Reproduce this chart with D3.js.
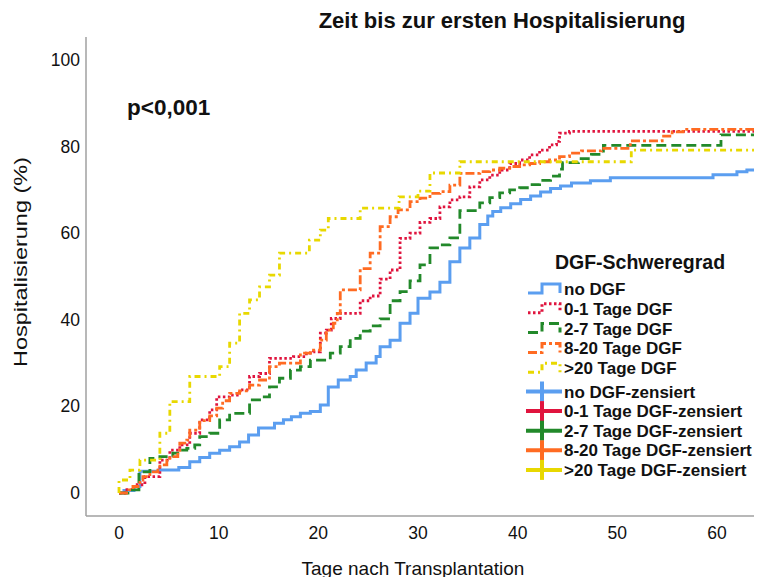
<!DOCTYPE html>
<html>
<head>
<meta charset="utf-8">
<script src="https://cdn.jsdelivr.net/npm/d3@7"></script>
<style>
  body { margin: 0; background: #fff; }
  text { font-family: "Liberation Sans", Arial, sans-serif; fill: #111; }
</style>
</head>
<body>
<svg id="chart"></svg>
<script>
// cumulative hospitalisation (%) by day
const noDGF = [[0,0],[0.5,0.6],[1.5,1.5],[2.1,5.0],[4.0,5.3],[6.0,5.9],[7.1,7.2],[8.1,8.2],[9.1,9.2],[10.1,9.9],[11.1,10.7],[12.1,11.8],[13.0,13.4],[14.0,15.0],[15.6,16.1],[16.5,16.9],[17.3,17.6],[18.2,18.4],[19.2,18.8],[20.2,20.3],[21.0,24.5],[22.0,26.1],[23.2,26.9],[23.8,28.4],[24.8,30.0],[25.8,31.5],[26.2,33.8],[27.2,35.3],[28.2,39.2],[29.2,41.5],[30.0,45.0],[31.2,46.4],[32.2,48.7],[33.2,53.4],[34.2,56.6],[35.2,58.9],[36.2,62.0],[37.0,64.0],[37.5,65.0],[38.3,65.9],[39.3,66.8],[40.3,67.8],[41.3,68.6],[42.3,69.5],[43.3,70.3],[44.3,70.9],[45.4,71.6],[47.3,72.1],[49.3,72.8],[59.6,73.5],[62.0,74.2],[63.0,74.6]];
const dgf0to1 = [[0,0],[0.6,0.8],[1.5,1.9],[2.6,3.8],[4.1,7.6],[5.1,9.9],[6.1,11.1],[7.1,13.8],[8.1,16.9],[9.1,19.2],[9.8,22.2],[11.1,22.6],[12.1,23.8],[13.1,26.9],[14.1,27.6],[15.1,31.1],[17.5,31.5],[18.8,32.3],[19.5,32.6],[20.2,36.9],[20.8,37.6],[21.3,40.3],[22.2,41.5],[24.2,44.4],[25.2,45.5],[26.2,49.4],[27.2,51.5],[28.2,58.8],[29.2,60.0],[30.2,62.5],[31.2,63.4],[32.2,66.1],[33.2,67.7],[34.2,68.4],[35.2,70.7],[36.2,72.3],[37.2,73.4],[38.2,74.6],[39.2,76.1],[40.2,76.9],[41.2,78.1],[42.2,79.2],[43.2,80.4],[43.9,81.2],[44.2,83.1],[45.2,83.5]];
const dgf2to7 = [[0,0],[0.9,0.7],[2.0,4.9],[3.1,8.0],[4.1,8.4],[5.4,9.2],[6.1,9.9],[6.8,10.3],[7.6,11.1],[8.1,13.0],[9.1,13.8],[10.1,16.9],[11.1,18.4],[13.1,21.5],[14.1,22.2],[15.1,24.5],[16.1,26.5],[17.2,28.4],[18.2,29.2],[19.2,30.7],[21.2,32.3],[22.2,33.8],[23.2,35.7],[24.2,37.4],[25.2,38.6],[26.2,40.2],[27.2,44.4],[28.2,46.5],[29.2,49.0],[30.2,52.7],[31.2,56.6],[32.2,57.3],[33.2,58.9],[34.2,65.2],[36.2,67.0],[37.2,68.2],[38.2,69.3],[39.2,70.0],[40.2,70.5],[41.2,71.2],[42.2,72.2],[43.3,73.2],[44.2,74.8],[44.5,76.3],[46.1,77.2],[47.4,78.2],[48.6,80.3],[60.4,82.7]];
const dgf8to20 = [[0,0],[1.0,0.7],[1.4,1.5],[2.1,3.0],[2.4,3.8],[3.1,4.9],[3.9,5.7],[4.1,6.5],[4.8,7.6],[5.1,8.4],[5.9,9.5],[6.1,11.5],[6.8,12.2],[7.1,14.5],[8.1,16.7],[9.1,17.8],[9.8,19.6],[10.4,21.3],[11.1,23.0],[12.1,23.6],[13.1,24.9],[14.1,26.1],[15.1,29.2],[16.1,30.0],[18.2,32.3],[19.2,33.0],[20.2,35.3],[20.8,37.6],[21.5,39.2],[21.9,41.5],[22.2,46.9],[24.2,51.8],[25.2,55.4],[26.2,61.5],[27.2,63.8],[28.0,65.4],[29.2,67.3],[30.2,68.1],[31.2,69.2],[32.2,69.6],[33.2,71.1],[34.2,73.8],[36.2,74.2],[37.2,74.6],[38.2,75.0],[39.2,75.4],[40.2,75.8],[41.2,76.1],[42.2,76.5],[43.2,76.9],[44.2,77.7],[45.2,78.5],[46.4,79.0],[48.4,79.6],[51.3,81.3],[54.5,82.4],[55.5,83.4],[56.6,84.0]];
const dgfOver20 = [[0,0],[0,3.0],[1.1,5.3],[2.1,7.6],[4.1,13.8],[5.1,21.1],[7.1,26.9],[10.1,29.2],[11.1,34.6],[12.1,41.5],[13.1,44.6],[14.1,47.6],[15.1,50.3],[16.1,55.4],[19.1,58.4],[20.2,60.7],[21.0,63.4],[24.2,65.8],[28.1,68.4],[30.0,69.7],[31.2,73.9],[34.2,76.5],[51.4,79.2]];

const groupNames = ["no DGF", "0-1 Tage DGF", "2-7 Tage DGF", "8-20 Tage DGF", ">20 Tage DGF"];
const xTicks = [0, 10, 20, 30, 40, 50, 60];
const yTicks = [0, 20, 40, 60, 80, 100];

const series = [
  {name: groupNames[0], data: noDGF, color: "#5b9ef0", dash: null, w: 3},
  {name: groupNames[1], data: dgf0to1, color: "#e0143e", dash: "2.5,2.5", w: 2.8},
  {name: groupNames[2], data: dgf2to7, color: "#22892a", dash: "10,5", w: 2.8},
  {name: groupNames[3], data: dgf8to20, color: "#ff6b22", dash: "9,3,3,3", w: 2.8},
  {name: groupNames[4], data: dgfOver20, color: "#e8d800", dash: "6,4,2,4", w: 2.8}
];

const width = 759, height = 577;
const svg = d3.select("#chart").attr("width", width).attr("height", height);

const x = d3.scaleLinear().domain([0, 60]).range([119, 717]);
const y = d3.scaleLinear().domain([0, 100]).range([493, 60]);
const xMax = x.invert(754);

// axes lines (no tick marks)
svg.append("line").attr("x1", 86).attr("x2", 86).attr("y1", 37).attr("y2", 516)
  .attr("stroke", "#a0a0a0").attr("stroke-width", 1.5);
svg.append("line").attr("x1", 86).attr("x2", 754).attr("y1", 516).attr("y2", 516)
  .attr("stroke", "#a0a0a0").attr("stroke-width", 1.5);

svg.selectAll(".ytick").data(yTicks).enter().append("text")
  .attr("x", 80).attr("y", d => y(d) + 6)
  .attr("text-anchor", "end").style("font-size", "17.5px")
  .text(d => d);

svg.selectAll(".xtick").data(xTicks).enter().append("text")
  .attr("x", d => x(d)).attr("y", 539)
  .attr("text-anchor", "middle").style("font-size", "17.5px")
  .text(d => d);

svg.append("text").attr("x", 413).attr("y", 575)
  .attr("text-anchor", "middle").style("font-size", "19px")
  .text("Tage nach Transplantation");

svg.append("text").attr("transform", "translate(27,262) rotate(-90)")
  .attr("text-anchor", "middle").style("font-size", "19px")
  .attr("textLength", 210).attr("lengthAdjust", "spacingAndGlyphs")
  .text("Hospitalisierung (%)");

svg.append("text").attr("x", 502).attr("y", 28)
  .attr("text-anchor", "middle").style("font-size", "22px").style("font-weight", "bold")
  .text("Zeit bis zur ersten Hospitalisierung");

svg.append("text").attr("x", 127).attr("y", 115)
  .style("font-size", "22.5px").style("font-weight", "bold")
  .text("p<0,001");

// curves
svg.append("clipPath").attr("id", "plot").append("rect")
  .attr("x", 86).attr("y", 37).attr("width", 668).attr("height", 479);

const line = d3.line().x(d => x(d[0])).y(d => y(d[1])).curve(d3.curveStepAfter);

const g = svg.append("g").attr("clip-path", "url(#plot)");
series.forEach(s => {
  const pts = s.data.concat([[xMax, s.data[s.data.length - 1][1]]]);
  g.append("path").attr("d", line(pts))
    .attr("fill", "none").attr("stroke", s.color)
    .attr("stroke-width", s.w)
    .attr("stroke-dasharray", s.dash);
});

// legend
const lg = svg.append("g");
lg.append("text").attr("x", 640).attr("y", 269)
  .attr("text-anchor", "middle").style("font-size", "19.5px").style("font-weight", "bold")
  .text("DGF-Schweregrad");

series.forEach((s, i) => {
  const cy = 289 + i * 19.8;
  lg.append("path")
    .attr("d", `M528,${cy + 4}H542V${cy - 5}H560V${cy + 4}`)
    .attr("fill", "none").attr("stroke", s.color).attr("stroke-width", 3)
    .attr("stroke-dasharray", s.dash);
  lg.append("text").attr("x", 564).attr("y", cy + 6)
    .style("font-size", "17px").style("font-weight", "bold")
    .text(s.name);
});

series.forEach((s, i) => {
  const cy = 391.5 + i * 19.6;
  lg.append("line").attr("x1", 526).attr("x2", 562).attr("y1", cy).attr("y2", cy)
    .attr("stroke", s.color).attr("stroke-width", 4);
  lg.append("line").attr("x1", 542).attr("x2", 542).attr("y1", cy - 10).attr("y2", cy + 10)
    .attr("stroke", s.color).attr("stroke-width", 4);
  lg.append("text").attr("x", 564).attr("y", cy + 6)
    .style("font-size", "17px").style("font-weight", "bold")
    .text(s.name + "-zensiert");
});
</script>
</body>
</html>
